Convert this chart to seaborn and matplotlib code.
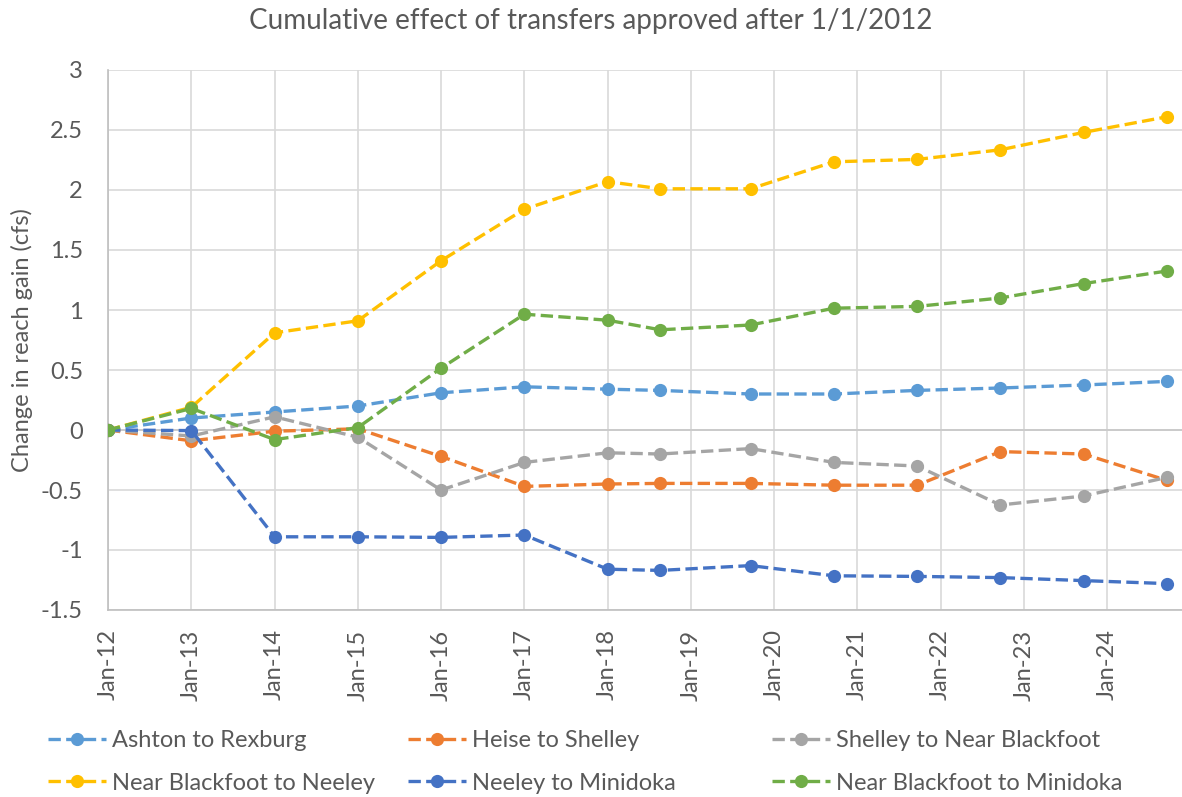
import pandas as pd
import matplotlib.pyplot as plt
import matplotlib.dates as mdates
from matplotlib.ticker import MultipleLocator, FormatStrFormatter
import seaborn as sns

# Dates of the model runs (yearly, then end of water year)
dates = ['2012-01-01', '2013-01-01', '2014-01-01', '2015-01-01', '2016-01-01',
         '2017-01-01', '2018-01-01', '2018-08-20', '2019-09-20', '2020-09-20',
         '2021-09-20', '2022-09-20', '2023-09-20', '2024-09-20']

# Change in reach gain (cfs)
ashton_rexburg = [0, 0.10, 0.15, 0.20, 0.31, 0.36, 0.34, 0.33, 0.30, 0.30, 0.33, 0.35, 0.375, 0.405]
heise_shelley = [0, -0.09, -0.01, 0.01, -0.22, -0.47, -0.45, -0.445, -0.445, -0.46, -0.46, -0.18, -0.20, -0.42]
shelley_nb = [0, -0.05, 0.11, -0.06, -0.50, -0.27, -0.19, -0.20, -0.155, -0.27, -0.30, -0.625, -0.55, -0.395]
nb_neeley = [0, 0.19, 0.81, 0.91, 1.41, 1.84, 2.07, 2.01, 2.01, 2.235, 2.255, 2.335, 2.48, 2.61]
neeley_minidoka = [0, -0.005, -0.89, -0.89, -0.895, -0.875, -1.16, -1.17, -1.13, -1.215, -1.22, -1.23, -1.255, -1.28]
nb_minidoka = [0, 0.18, -0.08, 0.02, 0.515, 0.965, 0.915, 0.835, 0.875, 1.015, 1.03, 1.10, 1.22, 1.325]

series_names = ['Ashton to Rexburg', 'Heise to Shelley', 'Shelley to Near Blackfoot',
                'Near Blackfoot to Neeley', 'Neeley to Minidoka', 'Near Blackfoot to Minidoka']
series_values = [ashton_rexburg, heise_shelley, shelley_nb, nb_neeley, neeley_minidoka, nb_minidoka]
colors = ['#5B9BD5', '#ED7D31', '#A5A5A5', '#FFC000', '#4472C4', '#70AD47']

# long format table for seaborn
rows = []
for name, vals in zip(series_names, series_values):
    for d, v in zip(dates, vals):
        rows.append({'date': pd.Timestamp(d), 'series': name, 'value': v})
df = pd.DataFrame(rows)

sns.set_theme(style='whitegrid')
plt.rcParams['font.family'] = ['Lato', 'DejaVu Sans']
plt.rcParams['axes.unicode_minus'] = False

text_col = '#595959'
grid_col = '#D9D9D9'

fig = plt.figure(figsize=(11.82, 7.97), dpi=100)
ax = fig.add_axes([108 / 1182, 1 - 610 / 797, 1 - 108 / 1182, (610 - 70) / 797])

for i, name in enumerate(series_names):
    sub = df[df['series'] == name]
    sns.lineplot(data=sub, x='date', y='value', ax=ax, color=colors[i],
                 linestyle='--', dashes=(4, 2.6), linewidth=2.4,
                 marker='o', markersize=9.5, markeredgewidth=0,
                 label=name, zorder=3 + i)

ax.legend_.remove()

# axis ranges and ticks
ax.set_ylim(-1.5, 3)
ax.yaxis.set_major_locator(MultipleLocator(0.5))
ax.yaxis.set_major_formatter(FormatStrFormatter('%g'))
ax.set_xlim(pd.Timestamp('2012-01-01'), pd.Timestamp('2024-11-25'))
ax.xaxis.set_major_locator(mdates.YearLocator(month=1, day=1))
ax.xaxis.set_major_formatter(mdates.DateFormatter('%b-%y'))

ax.grid(True, color=grid_col, linewidth=1.2)
ax.axhline(0, color='#C8C8C8', linewidth=1.2, zorder=1)
for side in ['top', 'right']:
    ax.spines[side].set_visible(False)
for side in ['left', 'bottom']:
    ax.spines[side].set_color('#BFBFBF')
    ax.spines[side].set_linewidth(1.2)

ax.tick_params(axis='x', labelrotation=90, labelsize=17, colors=text_col, length=0, pad=14)
ax.tick_params(axis='y', labelsize=17, colors=text_col, length=0, pad=18)
ax.set_xlabel('')
ax.set_ylabel('Change in reach gain (cfs)', fontsize=17, color=text_col, labelpad=6)

fig.suptitle('Cumulative effect of transfers approved after 1/1/2012',
             x=0.5, y=0.99, fontsize=20, color=text_col)

# legend: three separate columns placed under the chart
by_name = {l.get_label(): l for l in ax.get_lines() if l.get_label() in series_names}
col_x = [48, 408, 772]
for c in range(3):
    names = [series_names[c], series_names[c + 3]]
    fig.legend([by_name[n] for n in names], names, loc='upper left',
               bbox_to_anchor=(col_x[c] / 1182, 1 - 730 / 797),
               frameon=False, fontsize=17, handlelength=2.45, handletextpad=0.25,
               labelspacing=0.92, borderpad=0, borderaxespad=0,
               labelcolor=text_col)

fig.savefig('out.png', dpi=100)
